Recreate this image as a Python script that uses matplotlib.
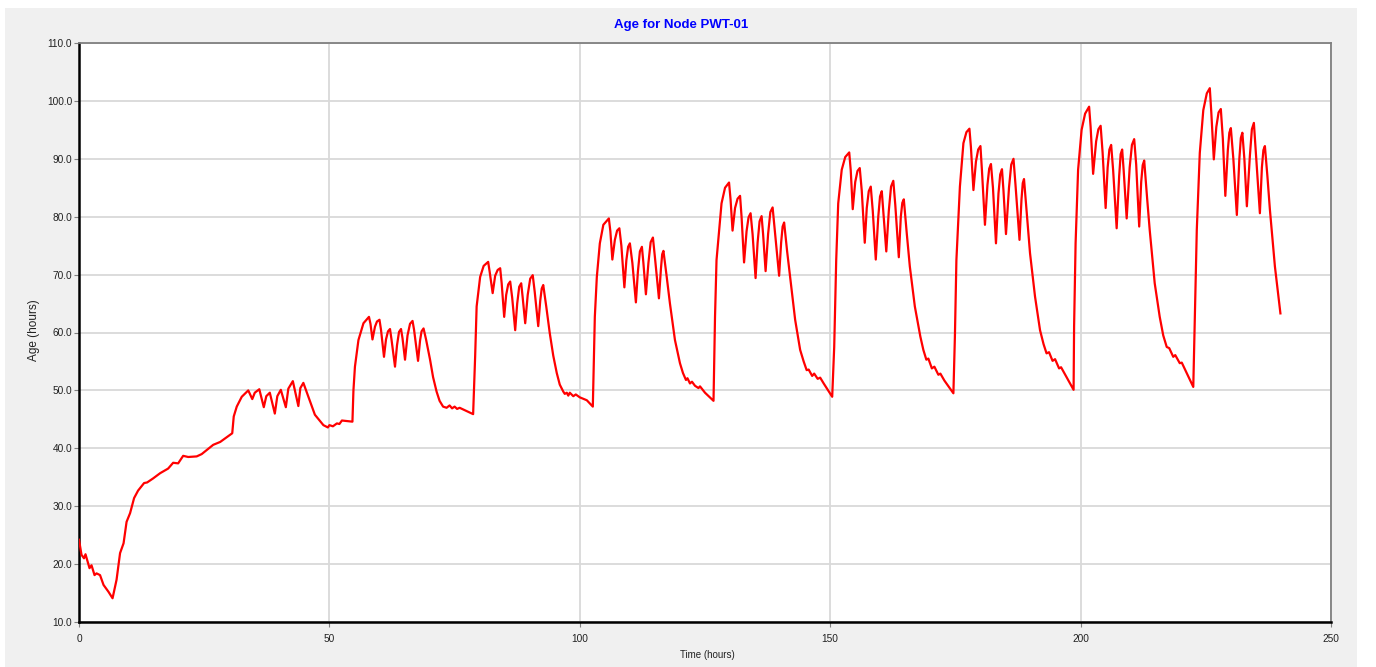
import matplotlib
matplotlib.use("Agg")
import matplotlib.pyplot as plt
from matplotlib.patches import Rectangle

# ---------------- data ----------------
time_h = [
    0.0, 0.5, 1.0, 1.3, 2.1, 2.5, 3.1, 3.5, 4.2, 4.9, 5.9, 6.7, 7.5, 8.2, 8.9, 9.5, 10.2, 11.0,
    11.8, 13.0, 13.6, 14.8, 16.2, 17.2, 17.8, 18.8, 19.8, 20.8, 21.8, 23.5, 24.5, 25.8, 26.8,
    28.2, 29.5, 30.6, 30.9, 31.5, 32.5, 33.8, 34.6, 35.1, 36.0, 36.9, 37.4, 38.1, 39.1, 39.6,
    40.3, 41.3, 41.8, 42.7, 43.8, 44.2, 44.8, 45.8, 47.1, 48.8, 49.7, 50.0, 50.7, 51.5, 52.0,
    52.5, 54.6,
    # cycle 1
    54.8, 55.1, 55.8, 56.8, 57.9, 58.2, 58.6, 59.1, 59.5, 60.0, 60.3, 60.9, 61.3, 61.7, 62.1,
    62.4, 63.1, 63.5, 63.9, 64.3, 64.6, 65.1, 65.6, 66.1, 66.6, 66.9, 67.7, 68.1, 68.4, 68.8,
    69.3, 70.1, 70.7, 71.4, 72.0, 72.7, 73.4, 74.0, 74.5, 75.0, 75.5, 76.0, 77.0, 78.0, 78.7,
    # cycle 2
    79.1, 79.4, 80.1, 80.8, 81.7, 82.0, 82.6, 83.1, 83.6, 84.1, 84.4, 84.9, 85.3, 85.7, 86.1,
    86.5, 87.1, 87.5, 87.9, 88.3, 88.6, 89.1, 89.6, 90.1, 90.6, 91.0, 91.7, 92.1, 92.4, 92.7,
    93.3, 94.0, 94.7, 95.4, 96.0, 96.7, 97.0, 97.4, 97.7, 98.0, 98.7, 99.2, 100.0, 101.4, 102.6,
    # cycle 3
    103.0, 103.4, 104.0, 104.7, 105.8, 106.1, 106.5, 107.0, 107.45, 107.9, 108.3, 108.9, 109.3,
    109.65, 110.0, 110.5, 111.2, 111.6, 112.0, 112.4, 112.7, 113.2, 113.7, 114.15, 114.6, 115.0,
    115.8, 116.2, 116.45, 116.7, 117.3, 118.0, 119.0, 120.0, 120.6, 121.2, 121.5, 122.0, 122.4,
    123.0, 123.7, 124.0, 125.0, 126.7,
    # cycle 4
    127.0, 127.3, 128.3, 129.0, 129.8, 130.1, 130.5, 131.0, 131.5, 132.0, 132.3, 132.8, 133.3,
    133.7, 134.1, 134.5, 135.1, 135.5, 135.9, 136.3, 136.6, 137.1, 137.6, 138.05, 138.5, 138.9,
    139.8, 140.2, 140.5, 140.8, 141.4, 142.0, 143.0, 144.0, 144.7, 145.3, 145.7, 146.4, 146.8,
    147.5, 148.0, 148.7, 150.4,
    # cycle 5
    150.8, 151.2, 151.6, 152.3, 153.0, 153.8, 154.1, 154.5, 155.0, 155.45, 155.9, 156.3, 156.9,
    157.3, 157.7, 158.1, 158.5, 159.1, 159.6, 159.95, 160.3, 160.6, 161.2, 161.7, 162.15, 162.6,
    163.0, 163.7, 164.1, 164.4, 164.7, 165.3, 165.9, 166.9, 168.0, 168.6, 169.2, 169.6, 170.3,
    170.8, 171.6, 172.0, 172.8, 174.6,
    # cycle 6
    174.9, 175.2, 175.9, 176.6, 177.2, 177.8, 178.1, 178.6, 179.1, 179.55, 180.0, 180.3, 180.9,
    181.4, 181.75, 182.1, 182.5, 183.1, 183.6, 183.95, 184.3, 184.6, 185.1, 185.7, 186.15, 186.6,
    187.0, 187.8, 188.2, 188.45, 188.7, 189.3, 189.9, 190.9, 191.9, 192.6, 193.2, 193.7, 194.4,
    194.9, 195.7, 196.1, 198.6,
    # cycle 7
    198.7, 199.0, 199.5, 200.2, 200.9, 201.7, 202.0, 202.5, 203.1, 203.55, 204.0, 204.4, 205.0,
    205.4, 205.75, 206.1, 206.5, 207.2, 207.7, 208.0, 208.3, 208.6, 209.2, 209.8, 210.25, 210.7,
    211.1, 211.7, 212.1, 212.4, 212.7, 213.3, 213.8, 214.8, 215.8, 216.5, 217.2, 217.7, 218.5,
    218.9, 219.8, 220.2, 222.5,
    # cycle 8
    222.8, 223.2, 223.8, 224.5, 225.2, 225.8, 226.1, 226.6, 227.1, 227.55, 228.0, 228.4, 228.9,
    229.4, 229.7, 230.0, 230.5, 231.2, 231.7, 232.0, 232.3, 232.7, 233.2, 233.8, 234.2, 234.6,
    235.0, 235.8, 236.2, 236.5, 236.8, 237.3, 237.8, 238.8, 239.9,
]

age_h = [
    24.2, 21.6, 21.0, 21.7, 19.3, 19.8, 18.1, 18.4, 18.1, 16.4, 15.2, 14.1, 17.3, 21.9, 23.6, 27.3, 28.8, 31.4,
    32.7, 34.0, 34.1, 34.8, 35.7, 36.2, 36.5, 37.5, 37.4, 38.7, 38.5, 38.6, 39.0, 39.9, 40.6,
    41.1, 41.9, 42.6, 45.5, 47.2, 48.9, 50.0, 48.5, 49.6, 50.2, 47.1, 49.0, 49.6, 46.0, 49.0,
    50.1, 47.1, 50.3, 51.6, 47.3, 50.4, 51.3, 48.9, 45.8, 44.0, 43.6, 44.0, 43.8, 44.3, 44.2,
    44.8, 44.6,
    # cycle 1
    50.0, 54.1, 58.7, 61.6, 62.7, 61.5, 58.8, 61.0, 61.9, 62.2, 60.5, 55.8, 58.8, 60.2, 60.6,
    58.8, 54.1, 57.8, 60.1, 60.6, 59.0, 55.3, 59.5, 61.5, 62.0, 60.5, 55.1, 58.6, 60.2, 60.7,
    58.8, 55.3, 52.3, 49.8, 48.2, 47.2, 47.0, 47.4, 46.9, 47.2, 46.8, 47.0, 46.6, 46.2, 45.9,
    # cycle 2
    55.8, 64.5, 69.6, 71.5, 72.2, 70.5, 66.8, 69.8, 70.8, 71.1, 68.5, 62.7, 66.5, 68.3, 68.8,
    66.0, 60.4, 65.0, 67.9, 68.5, 66.0, 61.6, 66.5, 69.3, 69.9, 67.0, 61.1, 65.5, 67.6, 68.2,
    64.5, 59.9, 56.0, 53.0, 51.0, 49.8, 49.4, 49.6, 49.1, 49.6, 49.0, 49.3, 48.8, 48.3, 47.2,
    # cycle 3
    62.7, 69.6, 75.4, 78.6, 79.7, 77.5, 72.6, 76.0, 77.6, 78.0, 75.0, 67.8, 72.5,
    74.8, 75.4, 72.0, 65.2, 70.5, 74.0, 74.8, 72.0, 66.6, 72.0, 75.6, 76.4, 73.0,
    65.9, 71.0, 73.5, 74.1, 70.0, 65.0, 58.7, 54.7, 53.0, 51.8, 52.1, 51.2, 51.5,
    50.8, 50.4, 50.7, 49.6, 48.2,
    # cycle 4
    62.7, 72.5, 82.3, 85.0, 85.9, 83.0, 77.6, 81.5, 83.1, 83.6, 80.0, 72.1, 77.5,
    79.9, 80.6, 77.0, 69.4, 75.5, 79.2, 80.1, 77.0, 70.6, 77.0, 80.8, 81.6, 78.0,
    69.8, 75.5, 78.3, 79.0, 74.0, 69.6, 62.2, 57.0, 55.0, 53.5, 53.6, 52.5, 52.9,
    52.0, 52.2, 51.2, 48.9,
    # cycle 5
    57.5, 72.5, 82.3, 88.1, 90.3, 91.1, 88.0, 81.3, 86.0, 87.9, 88.4, 84.5, 75.5,
    81.5, 84.4, 85.2, 81.0, 72.6, 80.0, 83.5, 84.4, 81.0, 74.0, 81.0, 85.2, 86.2,
    82.0, 73.0, 80.0, 82.4, 83.0, 77.0, 71.4, 64.5, 59.3, 57.0, 55.3, 55.5, 53.8,
    54.1, 52.7, 52.9, 51.7, 49.5,
    # cycle 6
    59.3, 72.5, 85.2, 92.7, 94.6, 95.2, 92.0, 84.6, 89.5, 91.6, 92.2, 88.0, 78.6,
    85.5, 88.3, 89.1, 85.0, 75.4, 84.0, 87.3, 88.2, 84.5, 77.0, 85.0, 89.0, 90.0,
    85.5, 76.0, 83.0, 85.8, 86.5, 80.0, 73.7, 66.2, 60.4, 58.0, 56.4, 56.6, 55.1,
    55.4, 53.8, 54.0, 50.1,
    # cycle 7
    61.0, 75.4, 88.1, 95.0, 97.8, 99.0, 95.5, 87.4, 93.0, 95.1, 95.7, 91.0, 81.5,
    88.5, 91.6, 92.4, 88.0, 78.0, 87.0, 90.8, 91.6, 88.0, 79.7, 88.5, 92.4, 93.4,
    89.0, 78.3, 86.0, 88.9, 89.7, 83.0, 77.7, 68.5, 62.7, 59.5, 57.5, 57.3, 55.8,
    56.1, 54.7, 54.8, 50.6,
    # cycle 8
    62.2, 77.7, 91.0, 98.4, 101.3, 102.2, 98.0, 89.9, 95.5, 98.0, 98.6, 93.5, 83.6,
    91.5, 94.5, 95.3, 90.0, 80.3, 90.0, 93.6, 94.5, 90.0, 81.8, 90.5, 95.1, 96.2,
    91.0, 80.6, 88.5, 91.5, 92.2, 87.0, 81.2, 71.4, 63.3,
]

x_ticks = [0, 50, 100, 150, 200, 250]
y_ticks = [10, 20, 30, 40, 50, 60, 70, 80, 90, 100, 110]
y_tick_labels = ["10.0", "20.0", "30.0", "40.0", "50.0", "60.0", "70.0", "80.0", "90.0", "100.0", "110.0"]

title_text = "Age for Node PWT-01"
x_label = "Time (hours)"
y_label = "Age (hours)"

# ---------------- figure ----------------
W, H = 1376, 667
fig = plt.figure(figsize=(W / 100, H / 100), dpi=100, facecolor="white")
bg = Rectangle((5 / W, 0), (1357 - 5) / W, (H - 8) / H,
               transform=fig.transFigure, facecolor="#f0f0f0",
               edgecolor="none", zorder=-10)
fig.add_artist(bg)

ax = fig.add_axes([79 / W, 1 - 622 / H, (1331 - 79) / W, (622 - 43) / H])
ax.set_zorder(5)
ax.set_facecolor("white")
ax.plot(time_h, age_h, color="#ff0000", linewidth=1.6, solid_joinstyle="round", zorder=3)

ax.set_xlim(0, 250)
ax.set_ylim(10, 110)
ax.set_xticks(x_ticks)
ax.set_xticklabels([str(v) for v in x_ticks])
ax.set_yticks(y_ticks)
ax.set_yticklabels(y_tick_labels)

ax.grid(True, color="#d9d9d9", linewidth=1.3, zorder=1)
ax.set_axisbelow(True)

for side in ("left", "bottom"):
    ax.spines[side].set_color("black")
    ax.spines[side].set_linewidth(1.8)
for side in ("top", "right"):
    ax.spines[side].set_color("#808080")
    ax.spines[side].set_linewidth(1.3)

ax.tick_params(axis="both", direction="out", length=3.5, width=0.8, color="#808080",
               labelsize=7.3, labelcolor="#222222")
ax.tick_params(axis="x", pad=5.5)
ax.tick_params(axis="y", pad=1.5)
for lab in ax.get_xticklabels() + ax.get_yticklabels():
    lab.set_fontfamily("Liberation Sans")

fig.text(681 / W, 1 - 25 / H, title_text, ha="center", va="center",
         color="#0000ff", fontsize=9.5, fontweight="bold", family="Liberation Sans", zorder=6)
fig.text(707 / W, 1 - 655 / H, x_label, ha="center", va="center",
         fontsize=7, color="#222222", family="Liberation Sans", zorder=6)
fig.text(34 / W, 1 - 330 / H, y_label, ha="center", va="center", rotation=90,
         fontsize=8.5, color="#222222", family="Liberation Sans", zorder=6)

fig.savefig("out.png", dpi=100, facecolor=fig.get_facecolor())
